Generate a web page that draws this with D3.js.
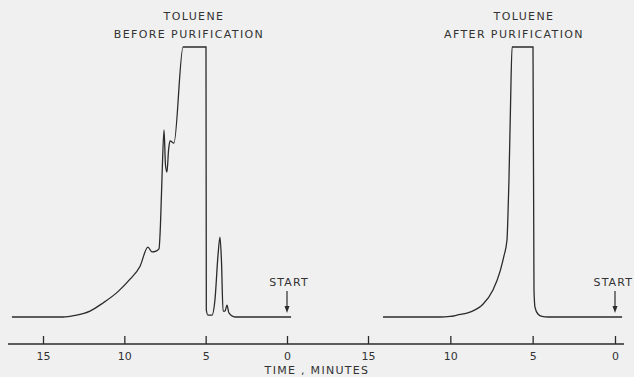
<!DOCTYPE html>
<html lang="en">
<head>
  <meta charset="UTF-8">
  <title>Toluene chromatograms</title>
  <script src="https://d3js.org/d3.v7.min.js"></script>
  <style>
    body {
      margin: 0;
      background-color: #f0f0f0;
    }
    svg {
      display: block;
      background-color: #f0f0f0;
    }
    text {
      font-family: 'DejaVu Sans', sans-serif;
      fill: #333;
    }
    .trace {
      fill: none;
      stroke: #2b2b2b;
      stroke-width: 1.3px;
    }
    .tick line, .axis-line {
      stroke: #2b2b2b;
      stroke-width: 1.3px;
    }
  </style>
</head>
<body>
  <svg width="634" height="377"></svg>

  <script>
    // retention time (minutes) and recorder signal (% of full scale, clipped at 100)
    const beforeTime   = [16.91, 13.77, 13.03, 12.11, 11.31, 10.39, 9.65, 9.04, 8.55, 8.30, 8.05, 7.87, 7.78, 7.68, 7.56, 7.47, 7.38, 7.28, 7.19, 6.95, 6.39, 4.98, 4.96, 4.86, 4.61, 4.43, 4.24, 4.12, 4.03, 3.93, 3.81, 3.69, 3.57, 3.20, -0.25];
    const beforeSignal = [0, 0, 0.6, 2.2, 5.2, 9.4, 14, 18.7, 25.9, 24.1, 24.4, 25.2, 34, 52.6, 69.3, 56.3, 53.7, 61.9, 65.2, 64.4, 100, 100, 2.6, 0.7, 0.7, 6.3, 23, 29.6, 21, 2.2, 2.2, 4.4, 1.5, 0, 0];

    const afterTime   = [14.09, 10.63, 10.02, 9.59, 8.81, 8.02, 7.41, 6.98, 6.74, 6.56, 6.50, 6.44, 6.35, 6.25, 4.98, 4.92, 4.86, 4.68, 4.43, 4.07, -0.43];
    const afterSignal = [0, 0, 0.2, 0.7, 1.8, 4.7, 10, 16.9, 22.7, 28.5, 37.8, 50.7, 76.7, 100, 100, 10, 3.7, 1.1, 0.2, 0, 0];

    const tickValues = [15, 10, 5, 0];
    const titlesBefore = ["TOLUENE", "BEFORE PURIFICATION"];
    const titlesAfter = ["TOLUENE", "AFTER PURIFICATION"];
    const axisTitle = "TIME , MINUTES";

    const svg = d3.select("svg");

    const xBefore = d3.scaleLinear().domain([15, 0]).range([43, 287]);
    const xAfter = d3.scaleLinear().domain([15, 0]).range([368, 615]);
    const y = d3.scaleLinear().domain([0, 100]).range([317, 47]);

    function drawTrace(times, signals, x) {
      const pts = times.map((t, i) => [t, signals[i]]);
      const line = d3.line()
        .x(d => x(d[0]))
        .y(d => y(d[1]))
        .curve(d3.curveMonotoneX);
      svg.append("path")
        .attr("class", "trace")
        .attr("d", line(pts));
    }

    drawTrace(beforeTime, beforeSignal, xBefore);
    drawTrace(afterTime, afterSignal, xAfter);

    // shared time axis line
    svg.append("line")
      .attr("class", "axis-line")
      .attr("x1", xBefore(17.15)).attr("x2", xAfter(-0.55))
      .attr("y1", 344).attr("y2", 344);

    function drawAxis(x) {
      const g = svg.append("g")
        .attr("transform", "translate(0,344)")
        .call(d3.axisBottom(x).tickValues(tickValues).tickSizeInner(-8).tickSizeOuter(0).tickPadding(8));
      g.select(".domain").remove();
      g.selectAll("text")
        .attr("fill", "#333")
        .style("font-size", "11px")
        .style("font-family", "'DejaVu Sans', sans-serif");
    }
    drawAxis(xBefore);
    drawAxis(xAfter);

    svg.append("text")
      .attr("x", 317).attr("y", 374)
      .attr("text-anchor", "middle")
      .style("font-size", "11px")
      .style("letter-spacing", "1.3px")
      .text(axisTitle);

    // titles
    function drawTitle(lines, cx) {
      lines.forEach((s, i) => {
        svg.append("text")
          .attr("x", cx[i]).attr("y", 20 + i * 18)
          .attr("text-anchor", "middle")
          .style("font-size", "11px")
          .style("letter-spacing", "1.4px")
          .text(s);
      });
    }
    drawTitle(titlesBefore, [194, 189]);
    drawTitle(titlesAfter, [524, 514]);

    // start markers
    function drawStart(x, anchor, tx) {
      const sx = x(0);
      svg.append("text")
        .attr("x", tx).attr("y", 286)
        .attr("text-anchor", anchor)
        .style("font-size", "11px")
        .style("letter-spacing", "1.1px")
        .text("START");
      svg.append("line")
        .attr("x1", sx).attr("x2", sx)
        .attr("y1", 291).attr("y2", 308)
        .attr("stroke", "#2b2b2b").attr("stroke-width", 1.2);
      svg.append("path")
        .attr("d", `M${sx - 2.5},306 L${sx + 2.5},306 L${sx},313 Z`)
        .attr("fill", "#2b2b2b");
    }
    drawStart(xBefore, "middle", xBefore(0) + 2);
    drawStart(xAfter, "end", 633);
  </script>
</body>
</html>
